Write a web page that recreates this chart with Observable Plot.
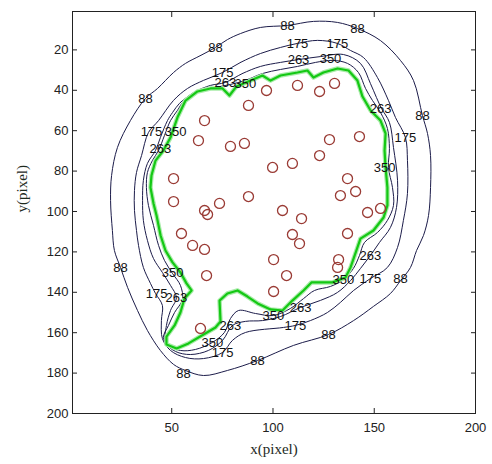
<!DOCTYPE html>
<html>
<head>
<meta charset="utf-8">
<script src="https://cdn.jsdelivr.net/npm/d3@7"></script>
<script src="https://cdn.jsdelivr.net/npm/@observablehq/plot@0.6"></script>
<style>
  html, body { margin: 0; padding: 0; background: #fff; }
  #chart { width: 492px; height: 464px; }
</style>
</head>
<body>
<div id="chart"></div>
<script>
// Axis ticks
const xTicks = [50, 100, 150, 200];
const yTicks = [20, 40, 60, 80, 100, 120, 140, 160, 180, 200];

// Detected objects (circle centres)
const pointsX = [96.8,112.1,123.0,130.4,87.9,66.2,63.2,79.0,85.9,50.9,50.9,73.6,87.9,66.2,67.7,99.8,109.6,123.0,127.9,142.7,136.8,140.8,133.3,104.7,114.1,146.7,153.1,109.6,113.1,136.8,54.8,60.3,66.2,67.2,64.2,100.3,106.7,132.4,131.9,100.3];
const pointsY = [40.1,37.6,40.6,36.6,47.5,55.0,64.9,67.8,66.3,83.7,95.1,96.0,92.6,99.5,101.5,78.2,76.2,72.3,64.4,62.9,83.7,90.1,92.1,99.5,103.5,100.5,98.5,111.4,115.9,110.9,110.9,116.8,118.8,131.7,157.9,123.8,131.7,123.8,127.7,139.6];

// Segmented boundary (green)
const boundary = [[62.7,40.6],[56.8,45.1],[52.8,53.5],[49.4,63.4],[45.9,69.8],[42.0,74.8],[40.0,82.2],[39.5,88.1],[41.0,96.0],[42.5,102.0],[44.5,111.9],[46.9,119.3],[50.4,125.2],[54.3,130.2],[57.3,135.6],[59.8,139.1],[56.3,143.1],[54.3,150.0],[51.4,156.4],[47.4,161.9],[47.4,165.8],[52.4,167.8],[58.3,165.3],[65.7,160.9],[71.6,157.4],[74.1,154.5],[73.6,144.1],[77.5,140.6],[82.5,139.1],[87.4,142.1],[92.4,145.5],[98.8,148.5],[104.7,149.0],[109.6,144.1],[115.1,139.1],[119.0,135.1],[129.4,135.1],[135.8,132.7],[138.3,127.7],[141.2,119.3],[143.2,113.4],[149.6,109.4],[154.6,103.0],[156.5,97.0],[156.5,88.1],[155.6,78.2],[155.1,69.8],[155.6,61.4],[153.1,55.0],[148.2,50.0],[144.2,43.1],[141.7,35.2],[137.3,30.2],[131.9,29.2],[124.9,31.2],[120.0,33.7],[117.0,30.2],[112.1,31.2],[103.7,32.7],[98.8,35.2],[94.8,32.7],[88.9,35.2],[82.0,38.1],[78.5,42.6],[75.1,39.1],[69.1,39.1]];

// Contour levels
const c88 = [[71.6,18.8],[64.2,22.8],[56.8,26.7],[50.9,31.2],[43.0,39.1],[37.0,44.1],[29.6,55.0],[23.2,68.3],[20.3,82.2],[19.8,94.6],[20.7,109.4],[21.7,119.3],[24.7,127.7],[28.2,137.6],[33.1,149.0],[38.0,158.9],[44.4,168.8],[50.9,175.7],[56.8,178.7],[65.7,181.2],[77.5,178.7],[92.3,173.8],[110.1,166.3],[127.4,160.9],[139.8,154.0],[149.6,147.0],[158.0,140.6],[163.0,134.2],[167.9,127.7],[170.9,119.3],[174.3,111.9],[176.8,102.0],[177.8,88.1],[177.8,72.3],[176.3,61.4],[173.8,52.5],[169.4,35.2],[163.0,25.3],[153.1,15.4],[141.7,9.4],[131.8,6.4],[120.0,5.9],[107.2,7.9],[93.8,8.9],[84.0,11.9],[77.5,14.9]];
const c175 = [[75.1,31.2],[84.0,26.2],[93.8,21.8],[103.7,18.8],[112.1,16.8],[122.0,15.3],[131.8,16.8],[138.3,20.3],[144.7,23.8],[151.6,33.7],[157.0,45.0],[160.5,53.5],[165.4,63.4],[166.4,74.7],[166.4,91.1],[164.4,104.4],[161.5,117.8],[156.5,127.7],[148.1,133.2],[139.8,139.1],[133.3,145.0],[126.9,150.0],[118.5,154.0],[111.1,156.4],[105.2,157.4],[86.4,159.9],[80.0,163.8],[75.1,169.8],[65.7,172.8],[56.8,172.3],[49.4,168.8],[45.4,162.9],[44.9,154.0],[45.4,146.5],[42.0,140.6],[39.5,135.6],[36.0,127.7],[33.6,116.8],[32.6,109.4],[31.6,99.5],[31.6,89.6],[32.6,80.7],[35.1,72.3],[38.5,60.9],[43.5,55.0],[50.9,45.0],[57.8,39.1],[65.7,35.1]];
const c263 = [[76.5,36.1],[84.9,31.7],[93.8,28.2],[103.7,26.2],[112.6,24.8],[123.5,23.3],[134.8,22.3],[143.2,26.7],[148.1,36.6],[151.1,43.6],[153.6,49.0],[157.5,55.9],[159.5,68.3],[161.5,84.6],[161.0,98.0],[158.0,107.9],[152.6,115.3],[148.1,121.8],[143.2,128.2],[138.3,134.2],[131.8,140.1],[123.5,144.0],[113.6,147.5],[103.7,152.0],[94.8,154.0],[86.4,154.4],[80.0,156.4],[75.1,163.8],[68.1,168.8],[59.3,170.8],[51.9,169.3],[46.9,164.8],[47.4,156.4],[49.4,149.0],[52.3,142.6],[49.4,136.6],[45.4,130.2],[41.0,123.3],[38.0,114.3],[36.0,104.4],[35.6,94.5],[36.0,84.6],[38.0,76.2],[42.0,69.8],[44.4,63.4],[47.9,55.0],[50.4,51.0],[53.8,46.5],[57.3,43.6],[61.7,40.6],[69.1,37.6]];
const c350 = [[79.0,37.1],[86.4,35.1],[94.8,31.7],[103.7,29.7],[112.1,28.2],[121.0,26.2],[129.4,25.2],[136.8,26.7],[142.2,31.2],[145.7,39.1],[149.1,45.0],[153.1,51.0],[156.5,58.9],[157.5,68.8],[157.0,78.2],[159.0,88.1],[159.5,97.0],[156.5,104.4],[151.6,110.4],[145.2,115.3],[142.7,121.8],[139.7,128.2],[134.8,133.7],[128.4,137.1],[120.5,139.1],[115.1,143.1],[108.6,148.0],[100.2,151.5],[91.4,150.5],[83.0,149.0],[79.0,153.0],[76.0,159.9],[70.1,164.8],[61.7,168.3],[54.3,168.8],[48.4,166.3],[45.9,162.4],[48.4,156.4],[51.4,150.0],[55.3,143.6],[54.3,136.6],[50.4,130.7],[46.4,124.2],[43.5,116.8],[41.0,106.9],[38.5,97.0],[37.5,88.1],[38.0,80.7],[40.5,74.7],[43.5,69.8],[46.4,62.4],[49.4,55.0],[52.8,50.0],[55.8,45.5],[59.3,43.1],[64.2,40.6],[71.6,38.6]];

// Contour labels
const labelText = ["88","88","88","88","88","88","88","88","88","88",
  "175","175","175","175","175","175","175","175","175",
  "263","263","263","263","263","263","263","263",
  "350","350","350","350","350","350","350","350"];
const labelX = [71.6,37.0,24.7,55.8,92.3,127.4,163.0,173.8,141.7,107.2,
  75.1,112.1,131.8,165.4,148.1,111.1,75.1,42.5,40.0,
  76.5,112.6,153.1,148.1,113.6,79.0,52.3,44.4,
  86.4,128.4,155.1,134.8,100.2,70.1,50.4,51.9];
const labelY = [18.8,44.1,127.7,180.2,173.8,160.9,133.2,52.5,9.4,7.9,
  31.2,16.8,16.8,63.4,133.2,156.4,169.8,140.6,60.4,
  36.1,24.8,49.0,121.8,147.5,156.4,142.6,68.8,
  36.6,24.3,78.2,133.7,151.5,164.8,130.2,60.4];

const contours = [["88", c88], ["175", c175], ["263", c263], ["350", c350]]
  .flatMap(([level, pts]) => pts.map(([x, y]) => ({level, x, y})));
const points = pointsX.map((x, i) => ({x, y: pointsY[i]}));
const bnd = boundary.map(([x, y]) => ({x, y}));
const labels = labelText.map((t, i) => ({t, x: labelX[i], y: labelY[i]}));

const chart = Plot.plot({
  width: 492,
  height: 464,
  marginLeft: 72,
  marginRight: 17,
  marginTop: 11,
  marginBottom: 51,
  x: {domain: [1, 200]},
  y: {domain: [1, 200], reverse: true},
  style: {fontFamily: "'Liberation Sans', Arial, sans-serif", fontSize: "13px", color: "#222", background: "#fff"},
  marks: [
    Plot.line(contours, {x: "x", y: "y", z: "level", curve: "catmull-rom-closed", stroke: "#1c1c4a", strokeWidth: 1}),
    Plot.line(bnd, {x: "x", y: "y", curve: "linear-closed", stroke: "#a8eca8", strokeWidth: 4.5}),
    Plot.line(bnd, {x: "x", y: "y", curve: "linear-closed", stroke: "#14c814", strokeWidth: 2.2}),
    Plot.dot(points, {x: "x", y: "y", r: 5, stroke: "#9a3b35", strokeWidth: 1.3, fill: "none"}),
    Plot.text(labels, {x: "x", y: "y", text: "t", fill: "#111", fontSize: 13}),
    Plot.frame({stroke: "#222"}),
    Plot.axisX({anchor: "bottom", ticks: xTicks, tickSize: -5, tickPadding: 14, label: null, fontSize: 13}),
    Plot.axisX({anchor: "top", ticks: xTicks, tickSize: -5, tickFormat: () => "", label: null}),
    Plot.axisY({anchor: "left", ticks: yTicks, tickSize: -5, tickPadding: 9, label: null, fontSize: 13}),
    Plot.axisY({anchor: "right", ticks: yTicks, tickSize: -5, tickFormat: () => "", label: null}),
    Plot.text(["x(pixel)"], {frameAnchor: "bottom", dy: 40, fontFamily: "'Liberation Serif', 'Times New Roman', serif", fontSize: 15, fill: "#1e2a1e"}),
    Plot.text(["y(pixel)"], {frameAnchor: "left", dx: -50, rotate: -90, fontFamily: "'Liberation Serif', 'Times New Roman', serif", fontSize: 15, fill: "#1e2a1e"})
  ]
});
document.getElementById("chart").appendChild(chart);
</script>
</body>
</html>
